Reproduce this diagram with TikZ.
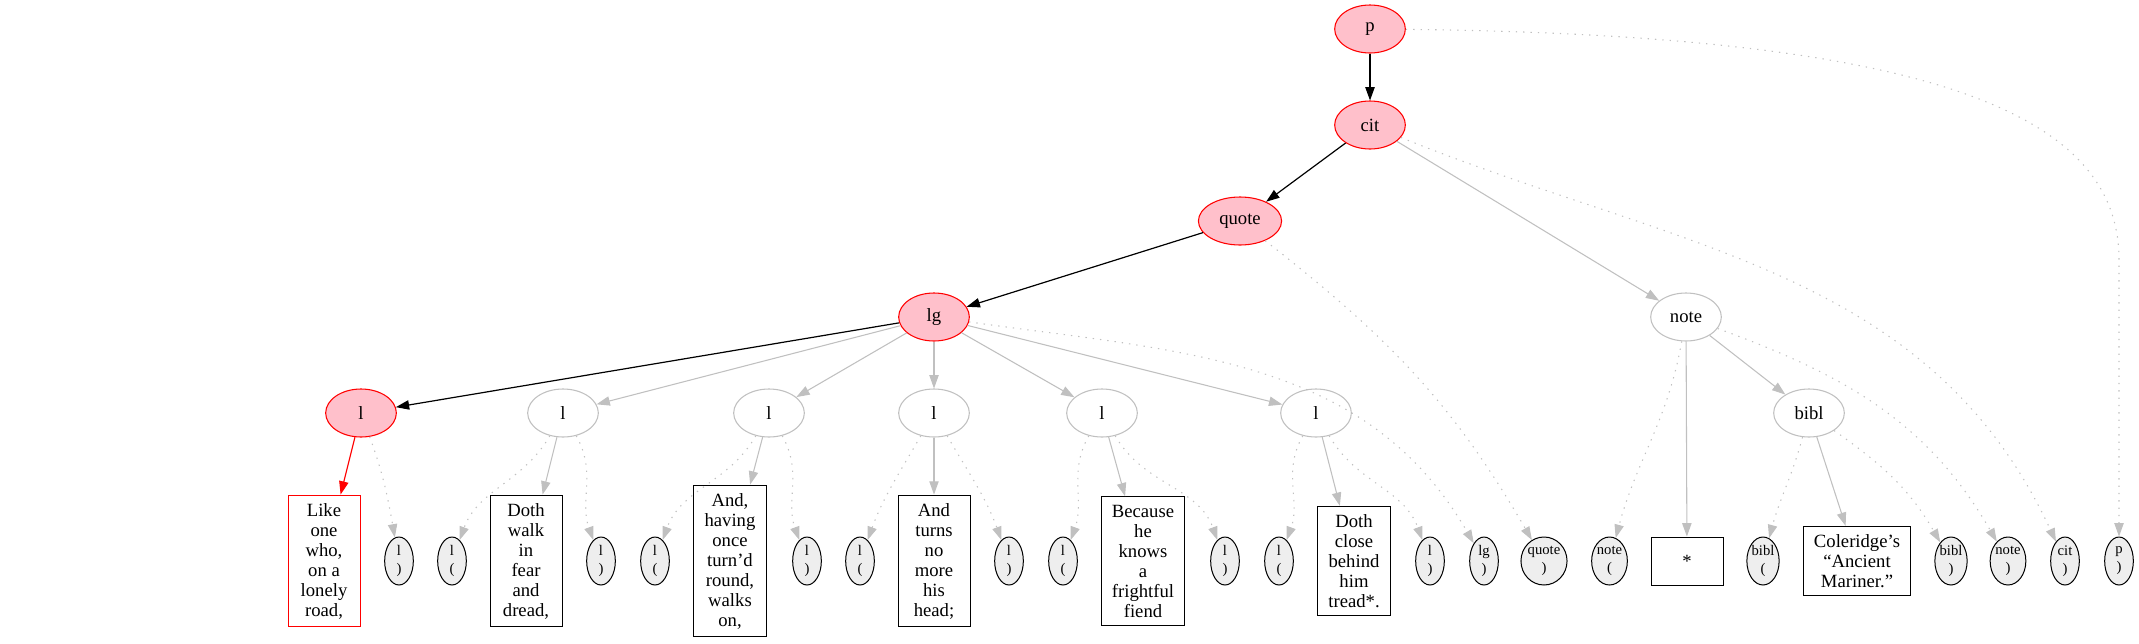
\documentclass[tikz,border=0pt]{standalone}
\usepackage{fontspec}
\setmainfont{Liberation Serif}
\usepackage{xcolor}
\usepackage{tikz}
\usetikzlibrary{shapes.geometric,arrows.meta}

\definecolor{pinkfill}{HTML}{FFC0CB}
\definecolor{edgegray}{HTML}{C0C0C0}
\definecolor{tagfill}{HTML}{EEEEEE}

\tikzset{
  elem/.style={ellipse,draw=edgegray,line width=0.8pt,minimum width=53pt,
    minimum height=36pt,inner xsep=6.5pt,inner ysep=0pt},
  hl/.style={elem,draw=red,fill=pinkfill},
  tag/.style={ellipse,draw=black,fill=tagfill,line width=0.75pt,minimum width=21.5pt,
    minimum height=36pt,inner sep=0pt,align=center,font=\fontsize{11}{13.5}\selectfont},
  txt/.style={rectangle,draw=black,line width=0.75pt,align=center,minimum width=54pt,
    minimum height=36pt,inner xsep=8pt,inner ysep=6pt},
  hltxt/.style={txt,draw=red},
  arr/.style={-{Triangle[length=10pt,width=7pt]}},
  tedge/.style={arr,line width=0.9pt,black},
  redge/.style={arr,line width=0.9pt,red},
  gedge/.style={arr,line width=0.8pt,edgegray},
  dedge/.style={arr,line width=0.8pt,edgegray,dash pattern=on 1pt off 4.5pt},
}

\begin{document}
\begin{tikzpicture}[x=0.75pt,y=-0.75pt,font=\fontsize{14}{15}\selectfont]
  \useasboundingbox (0,0) rectangle (2139,643);
  \node[hl] (p) at (1370,29) {p};
  \node[hl] (cit) at (1370,125) {cit};
  \node[hl] (quote) at (1240,221) {quote};
  \node[hl] (lg) at (934,317) {lg};
  \node[elem] (note) at (1686,317) {note};
  \node[elem] (bibl) at (1809,413) {bibl};
  \node[hl] (l1) at (361,413) {l};
  \foreach \n/\x in {2/563,3/769,4/934,5/1102,6/1316}
    \node[elem] (l\n) at (\x,413) {l};

  \node[hltxt] (v1) at (324,561) {Like\\one\\who,\\on a\\lonely\\road,};
  \node[txt] (v2) at (526,561) {Doth\\walk\\in\\fear\\and\\dread,};
  \node[txt] (v3) at (730,561) {And,\\having\\once\\turn’d\\round,\\walks\\on,};
  \node[txt] (v4) at (934,561) {And\\turns\\no\\more\\his\\head;};
  \node[txt] (v5) at (1143,561) {Because\\he\\knows\\a\\frightful\\fiend};
  \node[txt] (v6) at (1354,561) {Doth\\close\\behind\\him\\tread*.};
  \node[txt] (star) at (1687,561) {*};
  \node[txt] (cole) at (1857,561) {Coleridge’s\\“Ancient\\Mariner.”};

  \foreach \n/\x/\e in {2/452/l,3/655/l,4/860/l,5/1063/l,6/1279/l,note/1609.5/note,bibl/1763/bibl}
    \node[tag] (o\n) at (\x,561) {\e\\(};
  \foreach \n/\x/\e in {1/399/l,2/601/l,3/807/l,4/1009/l,5/1225/l,6/1430/l,lg/1484/lg,
      quote/1544/quote,bibl/1951/bibl,note/2008/note,cit/2065/cit,p/2119/p}
    \node[tag] (c\n) at (\x,561) {\e\\)};

  \draw[tedge] (p) -- (cit);
  \draw[tedge] (cit) -- (quote);
  \draw[tedge] (quote) -- (lg);
  \draw[tedge] (lg) -- (l1);
  \draw[redge] (l1) -- (v1);
  \draw[dedge] (l1) to[out=-70,in=100] (c1);
  \foreach \n in {2,...,6} {
    \draw[gedge] (lg) -- (l\n);
    \draw[gedge] (l\n) -- (v\n);
    \draw[dedge] (l\n) to[out=-120,in=70] (o\n);
    \draw[dedge] (l\n) to[out=-60,in=110] (c\n);
  }
  \draw[gedge] (cit) -- (note);
  \draw[gedge] (note) -- (star);
  \draw[gedge] (note) -- (bibl);
  \draw[gedge] (bibl) -- (cole);
  \draw[dedge] (note) to[out=-100,in=75] (onote);
  \draw[dedge] (note) to[out=-20,in=120] (cnote);
  \draw[dedge] (bibl) to[out=-105,in=75] (obibl);
  \draw[dedge] (bibl) to[out=-35,in=120] (cbibl);
  \draw[dedge] (lg) to[out=-8,in=120] (clg);
  \draw[dedge] (quote) to[out=-38,in=120] (cquote);
  \draw[dedge] (cit) to[out=-22,in=115] (ccit);
  \draw[dedge] (p) .. controls (1950,35) and (2119,120) .. (2119,260) -- (cp);
\end{tikzpicture}
\end{document}
